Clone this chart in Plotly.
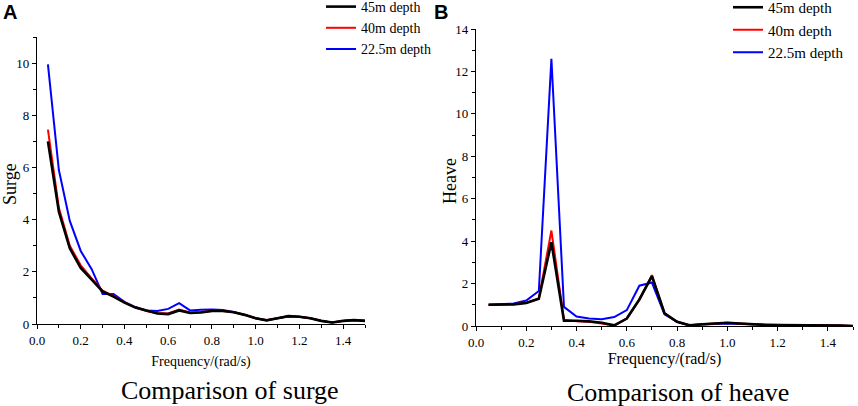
import plotly.graph_objects as go

# frequencies 0.05 ... 1.5 rad/s
freq = [round(0.05 * i, 2) for i in range(1, 31)]

surge_45 = [7.0, 4.3, 2.9, 2.15, 1.7, 1.25, 1.05, 0.82, 0.63, 0.5,
            0.4, 0.38, 0.52, 0.42, 0.44, 0.5, 0.5, 0.45, 0.35, 0.22,
            0.14, 0.22, 0.3, 0.28, 0.22, 0.12, 0.06, 0.12, 0.15, 0.12]
surge_40 = [7.45, 4.45, 3.0, 2.25, 1.75, 1.28, 1.08, 0.83, 0.64, 0.5,
            0.42, 0.4, 0.55, 0.44, 0.46, 0.5, 0.5, 0.45, 0.35, 0.22,
            0.14, 0.22, 0.3, 0.28, 0.22, 0.12, 0.06, 0.12, 0.15, 0.12]
surge_225 = [9.95, 5.9, 3.95, 2.8, 2.1, 1.15, 1.15, 0.85, 0.65, 0.52,
             0.5, 0.58, 0.8, 0.52, 0.55, 0.56, 0.54, 0.46, 0.35, 0.22,
             0.14, 0.22, 0.3, 0.28, 0.22, 0.12, 0.06, 0.12, 0.15, 0.12]

heave_45 = [1.0, 1.0, 1.02, 1.08, 1.28, 3.95, 0.25, 0.25, 0.22, 0.15,
            0.03, 0.35, 1.25, 2.35, 0.6, 0.2, 0.03, 0.08, 0.12, 0.15,
            0.12, 0.08, 0.05, 0.04, 0.04, 0.05, 0.04, 0.03, 0.02, 0.0]
heave_40 = [1.0, 1.0, 1.03, 1.1, 1.3, 4.5, 0.3, 0.22, 0.2, 0.12,
            0.02, 0.35, 1.25, 2.4, 0.6, 0.2, 0.03, 0.08, 0.12, 0.15,
            0.12, 0.08, 0.05, 0.04, 0.04, 0.05, 0.04, 0.03, 0.02, 0.0]
heave_225 = [1.0, 1.02, 1.06, 1.2, 1.65, 12.6, 0.9, 0.45, 0.35, 0.32,
             0.42, 0.75, 1.9, 2.05, 0.55, 0.2, 0.03, 0.07, 0.1, 0.12,
             0.1, 0.08, 0.05, 0.04, 0.04, 0.05, 0.04, 0.03, 0.02, 0.0]

series_names = ["22.5m depth", "40m depth", "45m depth"]
series_colors = ["#0000FF", "#FF0000", "#000000"]
series_widths = [2, 2, 2.6]

SERIF = "Liberation Serif, Times New Roman, serif"
W, H = 858, 406


def px(x):
    return x / W


def py(y):
    return 1 - y / H


fig = go.Figure()

for name, col, w, ys in zip(series_names, series_colors, series_widths,
                            [surge_225, surge_40, surge_45]):
    fig.add_trace(go.Scatter(x=freq, y=ys, mode="lines", name=name,
                             line=dict(color=col, width=w),
                             xaxis="x", yaxis="y", legend="legend"))

for name, col, w, ys in zip(series_names, series_colors, series_widths,
                            [heave_225, heave_40, heave_45]):
    fig.add_trace(go.Scatter(x=freq, y=ys, mode="lines", name=name,
                             line=dict(color=col, width=w),
                             xaxis="x2", yaxis="y2", legend="legend2"))

axis_common = dict(
    showline=True, linecolor="black", linewidth=1.3,
    ticks="outside", ticklen=4, tickwidth=1.2, tickcolor="black",
    showgrid=False, zeroline=False, automargin=False,
    tickfont=dict(family=SERIF, size=13, color="black"),
    minor=dict(ticks="outside", ticklen=2.5, tickwidth=1, tickcolor="black"),
)


def note(text, x, y, size, family=SERIF, angle=0):
    return dict(text=text, x=px(x), y=py(y), xref="paper", yref="paper",
                xanchor="center", yanchor="middle", showarrow=False,
                textangle=angle, font=dict(family=family, size=size, color="black"))


fig.update_layout(
    width=W, height=H,
    margin=dict(l=0, r=0, t=0, b=0, autoexpand=False),
    plot_bgcolor="white", paper_bgcolor="white",
    xaxis=dict(axis_common, domain=[px(37), px(365)], range=[0, 1.5],
               dtick=0.2, tickformat=".1f", anchor="y",
               minor=dict(axis_common["minor"], dtick=0.1),
               title=dict(text="Frequency/(rad/s)", standoff=9,
                          font=dict(family=SERIF, size=14, color="black"))),
    yaxis=dict(axis_common, domain=[py(324), py(37)], range=[0, 11],
               dtick=2, anchor="x",
               minor=dict(axis_common["minor"], dtick=1)),
    xaxis2=dict(axis_common, domain=[px(476), px(853)], range=[0, 1.5],
                dtick=0.2, tickformat=".1f", anchor="y2",
                minor=dict(axis_common["minor"], dtick=0.1),
                title=dict(text="Frequency/(rad/s)", standoff=3,
                           font=dict(family=SERIF, size=16, color="black"))),
    yaxis2=dict(axis_common, domain=[py(326), py(29)], range=[0, 14],
                dtick=2, anchor="x2",
                minor=dict(axis_common["minor"], dtick=1)),
    legend=dict(x=px(321), y=1 + 9 / H, xanchor="left", yanchor="top",
                traceorder="reversed", bgcolor="rgba(0,0,0,0)",
                font=dict(family=SERIF, size=14, color="black"),
                itemwidth=30, tracegroupgap=0),
    legend2=dict(x=px(728), y=1 + 9 / H, xanchor="left", yanchor="top",
                 traceorder="reversed", bgcolor="rgba(0,0,0,0)",
                 font=dict(family=SERIF, size=15, color="black"),
                 itemwidth=30, tracegroupgap=0),
    annotations=[
        note("<b>A</b>", 10, 12, 20, family="Liberation Sans, Arial, sans-serif"),
        note("<b>B</b>", 441, 12, 20, family="Liberation Sans, Arial, sans-serif"),
        note("Surge", 10, 184, 18, angle=-90),
        note("Heave", 450, 181, 18, angle=-90),
        note("Comparison of surge", 230, 390, 26),
        note("Comparison of heave", 678, 392, 26),
    ],
)

# plotly's page has an 8px body margin; drop it so the figure sits at the window corner
fig.write_html("out.html", config={"displayModeBar": False},
               post_script="document.body.style.margin = '0';")
